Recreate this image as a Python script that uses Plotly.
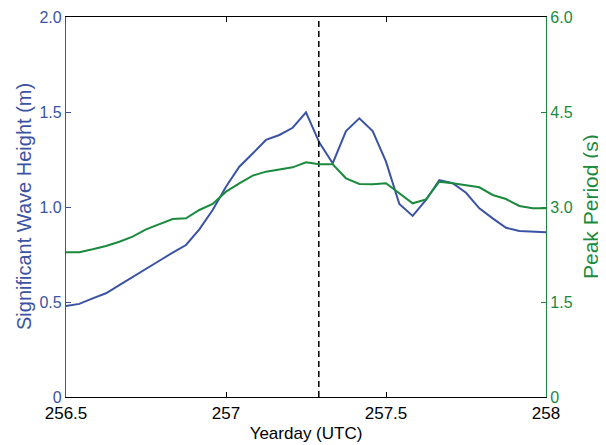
import plotly.graph_objects as go

# Hourly data, yearday 256.5 to 258.0
yearday = [256.5 + i / 24 for i in range(37)]

wave_height = [0.479, 0.49, 0.519, 0.546, 0.589, 0.633, 0.677, 0.717, 0.76, 0.80,
               0.882, 0.984, 1.107, 1.212, 1.282, 1.353, 1.379, 1.417, 1.498, 1.339,
               1.23, 1.40, 1.467, 1.40, 1.239, 1.016, 0.953, 1.037, 1.142, 1.125,
               1.075, 0.993, 0.94, 0.891, 0.874, 0.87, 0.867]

peak_period = [2.285, 2.285, 2.332, 2.384, 2.452, 2.531, 2.647, 2.732, 2.811, 2.821,
               2.953, 3.047, 3.242, 3.374, 3.495, 3.558, 3.595, 3.626, 3.705, 3.674,
               3.674, 3.453, 3.363, 3.358, 3.374, 3.216, 3.058, 3.121, 3.40, 3.374,
               3.337, 3.311, 3.19, 3.126, 3.016, 2.979, 2.979]

event_day = 257.29

x_ticks = [256.5, 257, 257.5, 258]
x_ticktext = ["256.5", "257", "257.5", "258"]
y1_ticks = [0, 0.5, 1.0, 1.5, 2.0]
y1_ticktext = ["0", "0.5", "1.0", "1.5", "2.0"]
y2_ticks = [0, 1.5, 3.0, 4.5, 6.0]
y2_ticktext = ["0", "1.5", "3.0", "4.5", "6.0"]

BLUE = "#3a53a4"
GREEN = "#1b8a3e"
FONT = "Liberation Sans, Arial, sans-serif"

fig = go.Figure()
fig.add_trace(go.Scatter(x=yearday, y=wave_height, mode="lines",
                         line=dict(color=BLUE, width=2), yaxis="y", showlegend=False))
fig.add_trace(go.Scatter(x=yearday, y=peak_period, mode="lines",
                         line=dict(color=GREEN, width=2), yaxis="y2", showlegend=False))
fig.add_trace(go.Scatter(x=[event_day, event_day], y=[0, 2], mode="lines",
                         line=dict(color="black", width=1.5, dash="6px,4px"),
                         yaxis="y", showlegend=False))

fig.update_layout(
    width=598, height=437,
    margin=dict(l=58, r=60, t=9, b=48),
    paper_bgcolor="white", plot_bgcolor="white",
    font=dict(family=FONT, size=16, color="black"),
    xaxis=dict(range=[256.5, 258], tickvals=x_ticks, ticktext=x_ticktext,
               ticks="inside", ticklen=5, tickcolor="black", showgrid=False,
               zeroline=False, showline=True, linecolor="black", linewidth=1.2,
               mirror="ticks", tickfont=dict(size=17, color="black"), automargin=False,
               title=dict(text="Yearday (UTC)", font=dict(size=17), standoff=5)),
    yaxis=dict(range=[0, 2], tickvals=y1_ticks, ticktext=y1_ticktext,
               ticks="inside", ticklen=5, tickcolor=BLUE, showgrid=False,
               zeroline=False, showline=True, linecolor=BLUE, linewidth=1.2,
               tickfont=dict(size=16, color=BLUE), automargin=False),
    yaxis2=dict(range=[0, 6], tickvals=y2_ticks, ticktext=y2_ticktext, overlaying="y",
                side="right", ticks="inside", ticklen=5, tickcolor=GREEN, showgrid=False,
                zeroline=False, showline=True, linecolor=GREEN, linewidth=1.2,
                tickfont=dict(size=16, color=GREEN), automargin=False),
    annotations=[
        dict(text="Significant Wave Height (m)", xref="paper", yref="paper",
             x=0, y=0.5, xanchor="center", yanchor="middle", xshift=-42,
             textangle=-90, showarrow=False, font=dict(size=20, color=BLUE)),
        dict(text="Peak Period (s)", xref="paper", yref="paper",
             x=1, y=0.5, xanchor="center", yanchor="middle", xshift=44,
             textangle=-90, showarrow=False, font=dict(size=21, color=GREEN)),
    ],
)

fig.write_html("out.html")
